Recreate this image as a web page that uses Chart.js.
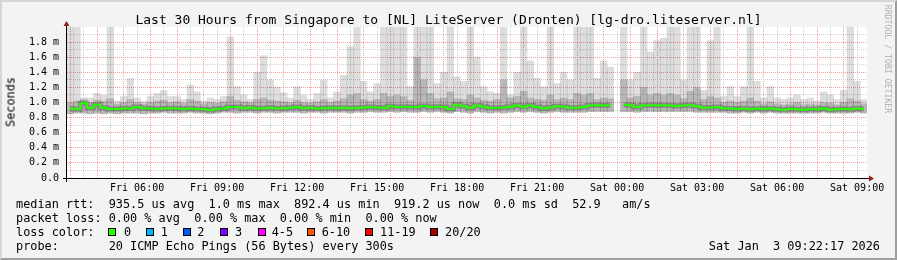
<!DOCTYPE html>
<html>
<head>
<meta charset="utf-8">
<script src="https://cdn.jsdelivr.net/npm/chart.js@4.4.1/dist/chart.umd.min.js"></script>
<style>
  html, body { margin: 0; padding: 0; }
  body { width: 897px; height: 260px; overflow: hidden; background: #f3f3f3; position: relative;
         font-family: 'DejaVu Sans Mono', monospace; color: #000; }
  #frame { position: absolute; left: 0; top: 0; width: 897px; height: 260px; box-sizing: border-box;
           border: 2px solid; border-color: #d6d6d6 #9e9e9e #9e9e9e #d6d6d6; }
  canvas { position: absolute; left: 0; top: 0; }
  .t { position: absolute; white-space: pre; }
  .leg { font-size: 11.85px; line-height: 14px; }
  .box { position: absolute; width: 6px; height: 6px; border: 1px solid #000; top: 228px; }
</style>
</head>
<body>
<div id="frame"></div>
<canvas id="myChart" width="897" height="260"></canvas>

<div class="t" style="left:0;width:897px;text-align:center;top:12px;font-size:13px;line-height:15px">Last 30 Hours from Singapore to [NL] LiteServer (Dronten) [lg-dro.liteserver.nl]</div>
<div class="t leg" style="left:-30px;top:94.5px;width:81px;text-align:center;transform:rotate(-90deg)">Seconds</div>
<div class="t" style="left:828px;top:54px;width:120px;text-align:center;font-size:8.2px;line-height:10px;color:#b0b0b0;transform:rotate(90deg)">RRDTOOL / TOBI OETIKER</div>

<div class="t leg" style="left:16px;top:197px">median rtt:  935.5 us avg  1.0 ms max  892.4 us min  919.2 us now  0.0 ms sd  52.9   am/s</div>
<div class="t leg" style="left:16px;top:211px">packet loss: 0.00 % avg  0.00 % max  0.00 % min  0.00 % now</div>
<div class="t leg" style="left:16px;top:225px">loss color:</div>
<div id="lossLegend"></div>
<div class="t leg" style="left:16px;top:239px">probe:       20 ICMP Echo Pings (56 Bytes) every 300s</div>
<div class="t leg" style="right:17px;top:239px">Sat Jan  3 09:22:17 2026</div>

<script>
// time axis: hours since Fri 00:00, one bin every 15 minutes
const startHour = 3 + 22 / 60 + 17 / 3600;   // Fri 03:22:17
const stepHours = 0.25;

// smoke top (slowest ping), ms
const maxRtt = [
  2.0, 2.0, 1.06, 1.06, 1.12, 1.1, 2.0, 1.02, 1.08, 1.32,
  1.06, 1.02, 1.08, 1.12, 1.16, 1.08, 1.08, 1.04, 1.23, 1.14,
  1.02, 1.06, 1.04, 1.08, 1.87, 1.21, 1.1, 1.04, 1.4, 1.62,
  1.3, 1.2, 1.13, 1.06, 1.21, 1.1, 1.04, 1.12, 1.3, 1.06,
  1.14, 1.36, 1.74, 2.0, 1.28, 1.14, 1.25, 2.0, 2.0, 2.0,
  2.0, 1.21, 2.0, 2.0, 2.0, 1.25, 1.4, 2.0, 1.34, 1.28,
  2.0, 1.6, 1.21, 1.14, 1.12, 2.0, 1.1, 1.4, 2.0, 1.55,
  1.32, 1.21, 2.0, 1.25, 1.4, 1.3, 2.0, 2.0, 2.0, 1.32,
  1.55, 1.47, null, 2.0, 1.3, 1.4, 2.0, 1.67, 1.82, 1.85,
  2.0, 2.0, 1.3, 2.0, 2.0, 1.16, 1.82, 2.0, 1.08, 1.21,
  1.08, 1.21, 2.0, 1.28, 1.06, 1.21, 1.06, 1.04, 1.06, 1.1,
  1.04, 1.06, 1.02, 1.14, 1.1, 1.04, 1.16, 2.0, 1.28, 1.04
];

// top of the dense smoke, ms
const upperRtt = [
  1.0, 1.02, 1.04, 1.0, 1.03, 1.02, 1.05, 0.98, 1.0, 1.04,
  1.0, 0.98, 1.0, 1.02, 1.03, 1.0, 1.01, 0.99, 1.04, 1.02,
  0.98, 1.0, 0.99, 1.01, 1.08, 1.03, 1.01, 1.0, 1.04, 1.06,
  1.03, 1.02, 1.01, 1.0, 1.03, 1.0, 0.99, 1.01, 1.04, 1.0,
  1.02, 1.05, 1.1, 1.12, 1.04, 1.02, 1.04, 1.12, 1.08, 1.1,
  1.08, 1.03, 1.6, 1.3, 1.12, 1.05, 1.06, 1.14, 1.05, 1.04,
  1.1, 1.06, 1.03, 1.02, 1.04, 1.3, 1.06, 1.08, 1.15, 1.06,
  1.04, 1.03, 1.1, 1.04, 1.06, 1.04, 1.12, 1.1, 1.12, 1.04,
  1.06, 1.05, null, 1.3, 1.06, 1.08, 1.2, 1.1, 1.12, 1.1,
  1.12, 1.1, 1.05, 1.15, 1.2, 1.04, 1.08, 1.06, 1.0, 1.02,
  1.0, 1.02, 1.06, 1.02, 0.98, 1.01, 0.98, 0.97, 0.98, 1.0,
  0.97, 0.98, 0.97, 1.0, 0.99, 0.97, 1.0, 1.05, 1.02, 0.98
];

// median rtt, ms
const medianRtt = [
  0.92, 0.91, 0.99, 0.93, 0.97, 0.93, 0.915, 0.915, 0.92, 0.92,
  0.94, 0.925, 0.92, 0.915, 0.92, 0.925, 0.92, 0.915, 0.92, 0.915,
  0.91, 0.9, 0.915, 0.92, 0.94, 0.94, 0.925, 0.935, 0.92, 0.925,
  0.93, 0.92, 0.925, 0.93, 0.94, 0.925, 0.93, 0.92, 0.925, 0.93,
  0.925, 0.93, 0.925, 0.93, 0.935, 0.94, 0.935, 0.93, 0.95, 0.94,
  0.945, 0.94, 0.94, 0.955, 0.94, 0.945, 0.94, 0.915, 0.97, 0.95,
  0.93, 0.96, 0.945, 0.93, 0.93, 0.935, 0.945, 0.96, 0.945, 0.96,
  0.94, 0.92, 0.935, 0.95, 0.945, 0.93, 0.935, 0.94, 0.96, 0.965,
  0.96, 0.965, null, 0.97, 0.965, 0.94, 0.96, 0.965, 0.96, 0.965,
  0.96, 0.955, 0.96, 0.965, 0.95, 0.93, 0.935, 0.94, 0.925, 0.92,
  0.915, 0.92, 0.91, 0.92, 0.915, 0.92, 0.91, 0.905, 0.915, 0.91,
  0.905, 0.915, 0.91, 0.92, 0.905, 0.91, 0.915, 0.91, 0.92, 0.915
];

// smoke bottom (fastest ping), ms
const minRtt = [
  0.85, 0.86, 0.86, 0.85, 0.86, 0.85, 0.86, 0.85, 0.86, 0.86,
  0.86, 0.85, 0.86, 0.86, 0.87, 0.86, 0.86, 0.86, 0.87, 0.86,
  0.86, 0.85, 0.86, 0.87, 0.87, 0.86, 0.87, 0.87, 0.86, 0.87,
  0.87, 0.86, 0.87, 0.87, 0.87, 0.86, 0.87, 0.87, 0.86, 0.87,
  0.87, 0.87, 0.86, 0.87, 0.87, 0.88, 0.87, 0.87, 0.88, 0.87,
  0.88, 0.87, 0.87, 0.88, 0.87, 0.88, 0.87, 0.86, 0.88, 0.87,
  0.86, 0.88, 0.87, 0.86, 0.87, 0.86, 0.87, 0.88, 0.87, 0.88,
  0.87, 0.86, 0.87, 0.88, 0.87, 0.87, 0.87, 0.87, 0.88, 0.88,
  0.88, 0.88, null, 0.88, 0.88, 0.87, 0.88, 0.88, 0.88, 0.88,
  0.88, 0.88, 0.88, 0.88, 0.87, 0.87, 0.87, 0.87, 0.87, 0.86,
  0.86, 0.87, 0.86, 0.87, 0.86, 0.87, 0.86, 0.86, 0.86, 0.86,
  0.86, 0.86, 0.86, 0.87, 0.86, 0.86, 0.86, 0.86, 0.87, 0.86
];

const yTickValues = [0.0, 0.2, 0.4, 0.6, 0.8, 1.0, 1.2, 1.4, 1.6, 1.8];
const timeTickHours = [6, 9, 12, 15, 18, 21, 24, 27, 30, 33];
const timeTickLabels = ['Fri 06:00', 'Fri 09:00', 'Fri 12:00', 'Fri 15:00', 'Fri 18:00',
                        'Fri 21:00', 'Sat 00:00', 'Sat 03:00', 'Sat 06:00', 'Sat 09:00'];

const lossLabels = ['0', '1', '2', '3', '4-5', '6-10', '11-19', '20/20'];
const lossColors = ['#26ff00', '#00b8ff', '#0059ff', '#7e00ff', '#ff00ff', '#ff5500', '#ff0000', '#a10000'];

// loss colour legend row
const boxLeft = [108, 145.5, 182.5, 220, 257.5, 307, 364.5, 430];
const textLeft = [124, 160.7, 197.3, 235, 271.7, 321.7, 380, 445];
const lossDiv = document.getElementById('lossLegend');
lossLabels.forEach((lab, i) => {
  const b = document.createElement('div');
  b.className = 'box';
  b.style.left = boxLeft[i] + 'px';
  b.style.background = lossColors[i];
  lossDiv.appendChild(b);
  const t = document.createElement('div');
  t.className = 't leg';
  t.style.left = textLeft[i] + 'px';
  t.style.top = '225px';
  t.textContent = lab;
  lossDiv.appendChild(t);
});

const endHour = startHour + 30;
const times = medianRtt.map((_, i) => startHour + (i + 0.5) * stepHours);

function band(lo, hi) {
  const out = [];
  for (let i = 0; i < lo.length; i++) {
    if (lo[i] == null || hi[i] == null) continue;
    out.push({ x: times[i], y: [lo[i], hi[i]] });
  }
  return out;
}
const medianPoints = medianRtt.map((v, i) => ({ x: times[i], y: v }));

const monoFont = { family: 'DejaVu Sans Mono', size: 10 };
const majorGrid = '#f2a0a0';
const minorGrid = '#d2d2d2';

// white plot area + axis lines and arrows
const rrdFrame = {
  id: 'rrdFrame',
  beforeDraw(chart) {
    const { ctx, chartArea: a } = chart;
    ctx.save();
    ctx.fillStyle = '#ffffff';
    ctx.fillRect(a.left, a.top, a.right - a.left, a.bottom - a.top);
    ctx.restore();
  },
  afterDraw(chart) {
    const { ctx, chartArea: a } = chart;
    ctx.save();
    ctx.strokeStyle = '#000000';
    ctx.lineWidth = 1;
    ctx.beginPath();
    ctx.moveTo(a.left - 4, a.bottom + 0.5);
    ctx.lineTo(a.right + 3, a.bottom + 0.5);
    ctx.moveTo(a.left - 0.5, a.bottom + 4);
    ctx.lineTo(a.left - 0.5, a.top - 2);
    ctx.stroke();
    ctx.fillStyle = '#9b1c1c';
    ctx.beginPath();
    ctx.moveTo(a.left - 0.5, a.top - 6);
    ctx.lineTo(a.left - 3.5, a.top - 1);
    ctx.lineTo(a.left + 2.5, a.top - 1);
    ctx.closePath();
    ctx.fill();
    ctx.beginPath();
    ctx.moveTo(a.right + 7, a.bottom + 0.5);
    ctx.lineTo(a.right + 2, a.bottom - 2.5);
    ctx.lineTo(a.right + 2, a.bottom + 3.5);
    ctx.closePath();
    ctx.fill();
    ctx.restore();
  }
};

const hourTicks = [];
for (let h = Math.ceil(startHour); h <= endHour; h++) hourTicks.push(h);
const halfHourTicks = hourTicks.map(h => h - 0.5).filter(h => h > startHour);

const config = {
  type: 'bar',
  data: {
    datasets: [
      {
        type: 'line', label: 'median', data: medianPoints, order: 0,
        borderColor: '#26ff00', borderWidth: 2, pointRadius: 0, stepped: 'middle',
        spanGaps: false, xAxisID: 'x', yAxisID: 'y'
      },
      {
        type: 'line', label: 'core', data: medianPoints, order: 1,
        borderColor: 'rgba(40,40,40,0.3)', borderWidth: 5, pointRadius: 0, stepped: 'middle',
        spanGaps: false, xAxisID: 'x', yAxisID: 'y'
      },
      {
        label: 'dense', data: band(minRtt, upperRtt), order: 2, grouped: false,
        backgroundColor: 'rgba(0,0,0,0.17)', borderWidth: 0, barPercentage: 1, categoryPercentage: 1,
        xAxisID: 'x', yAxisID: 'y'
      },
      {
        label: 'smoke', data: band(minRtt, maxRtt), order: 3, grouped: false,
        backgroundColor: 'rgba(0,0,0,0.135)', borderWidth: 0, barPercentage: 1, categoryPercentage: 1,
        xAxisID: 'x', yAxisID: 'y'
      }
    ]
  },
  options: {
    responsive: false,
    animation: false,
    events: [],
    layout: { padding: { left: 0, top: 27, right: 30, bottom: 62 } },
    plugins: { legend: { display: false }, tooltip: { enabled: false }, title: { display: false } },
    scales: {
      x: {
        type: 'linear', position: 'bottom', min: startHour, max: endHour, offset: false,
        afterFit: s => { s.height = 20; },
        afterBuildTicks: s => { s.ticks = hourTicks.map(v => ({ value: v })); },
        ticks: {
          autoSkip: false, maxRotation: 0, padding: 4, color: '#000', font: monoFont,
          callback: v => {
            const k = timeTickHours.indexOf(v);
            return k >= 0 ? timeTickLabels[k] : '';
          }
        },
        grid: { color: majorGrid, drawTicks: false },
        border: { display: false, dash: [1, 1] }
      },
      x2: {
        type: 'linear', position: 'bottom', min: startHour, max: endHour, offset: false,
        afterFit: s => { s.height = 0; },
        afterBuildTicks: s => { s.ticks = halfHourTicks.map(v => ({ value: v })); },
        ticks: { display: false },
        grid: { color: minorGrid, drawTicks: false },
        border: { display: false, dash: [1, 1] }
      },
      y: {
        type: 'linear', position: 'left', min: 0, max: 2.0,
        afterFit: s => { s.width = 67; },
        afterBuildTicks: s => { s.ticks = yTickValues.map(v => ({ value: v })); },
        ticks: {
          padding: 8, color: '#000', font: monoFont,
          callback: v => v === 0 ? '0.0' : v.toFixed(1) + ' m'
        },
        grid: { color: majorGrid, drawTicks: false },
        border: { display: false, dash: [1, 1] }
      },
      y2: {
        type: 'linear', position: 'left', min: 0, max: 2.0,
        afterFit: s => { s.width = 0; },
        afterBuildTicks: s => { s.ticks = yTickValues.map(v => ({ value: v + 0.1 })); },
        ticks: { display: false },
        grid: { color: minorGrid, drawTicks: false },
        border: { display: false, dash: [1, 1] }
      }
    }
  },
  plugins: [rrdFrame]
};

const myChart = new Chart(document.getElementById('myChart'), config);
</script>
</body>
</html>
